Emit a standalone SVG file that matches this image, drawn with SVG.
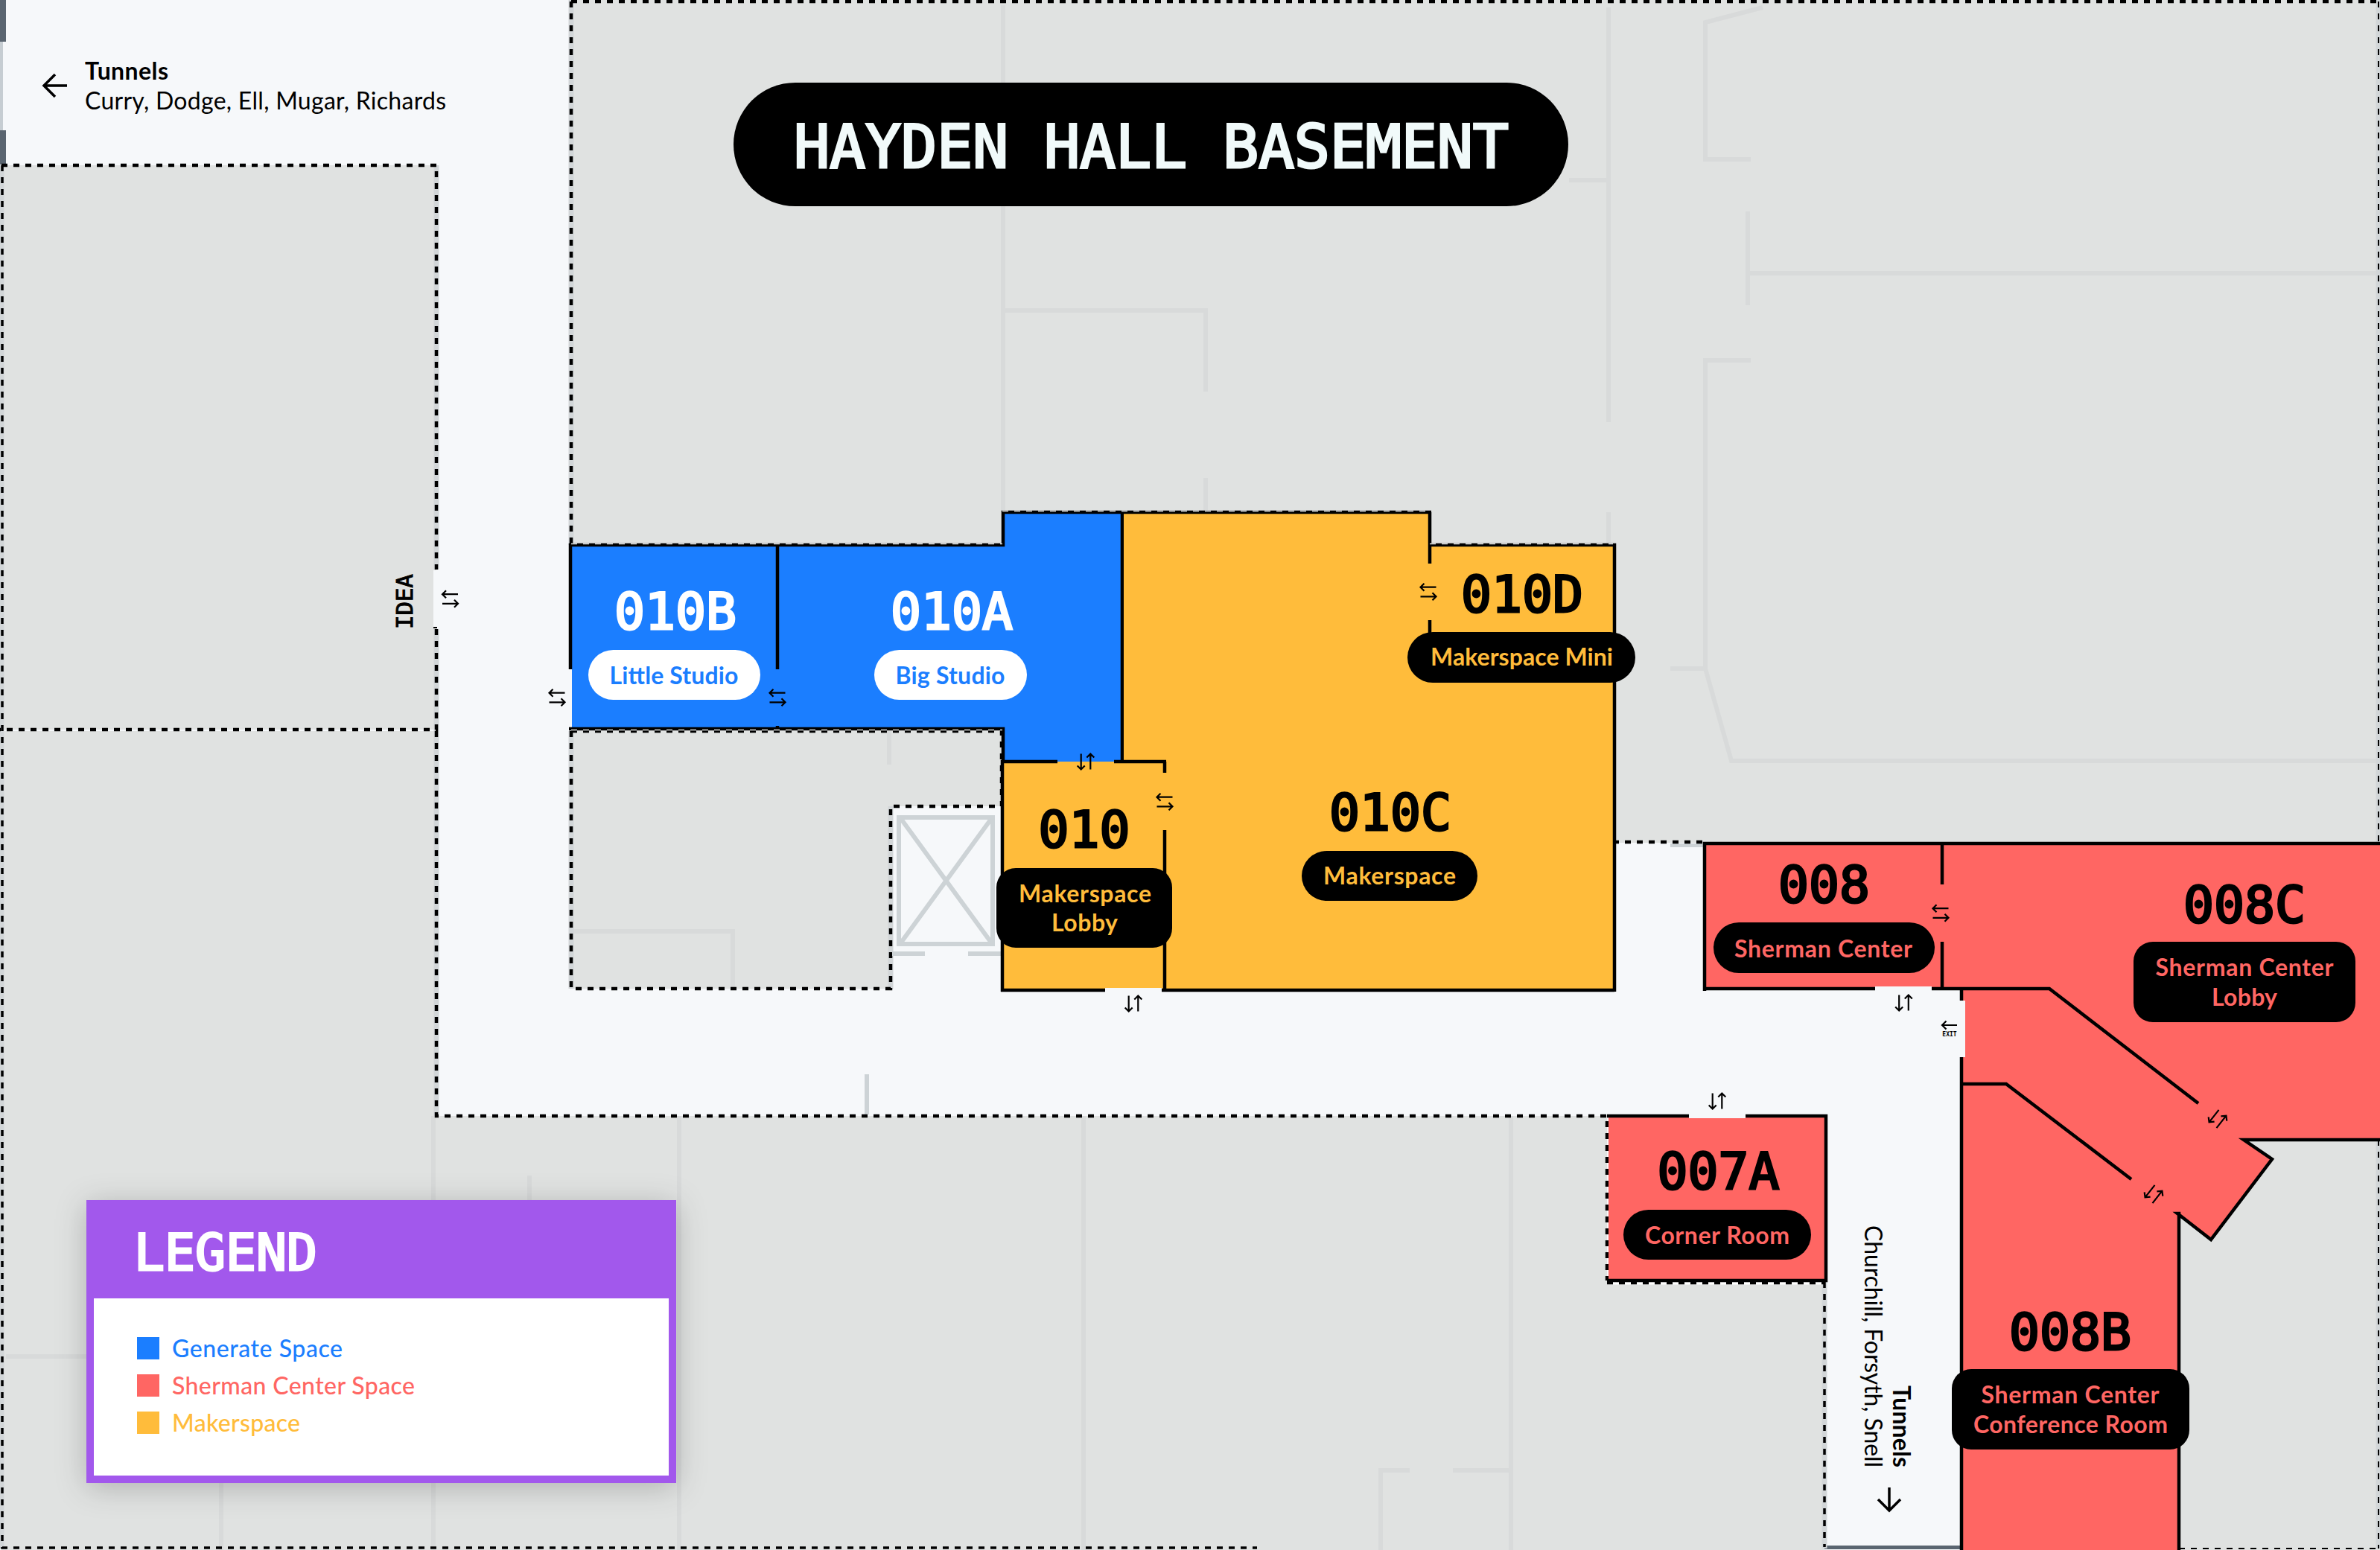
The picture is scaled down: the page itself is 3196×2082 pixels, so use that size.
<svg xmlns="http://www.w3.org/2000/svg" width="3196" height="2082" viewBox="0 0 3196 2082">
<style>
.gray{fill:#e0e2e1}
.edge{fill:none;stroke:#d2d6d8;stroke-width:7}
.dash{fill:none;stroke:#000;stroke-width:4.5;stroke-dasharray:8 8}
.lite{fill:none;stroke:#e0e2e1;stroke-width:1.6;stroke-dasharray:8 8}
.faint{fill:none;stroke:#d8dada;stroke-width:6}
.wall{fill:none;stroke:#000;stroke-width:4.5}
.elev{fill:none;stroke:#cdd3d6;stroke-width:6}
.gap{fill:#f6f8fa}
.code{font-family:"DejaVu Sans Mono",monospace;font-weight:400;font-size:68px;text-anchor:middle;fill:#000;stroke:#000;stroke-width:3}
.code.w{fill:#fff;stroke:#fff}
.lab{font-family:Lato,"Noto Sans",sans-serif;font-weight:700;font-size:32px;text-anchor:middle}
.leg{font-family:Lato,"Noto Sans",sans-serif;font-weight:500;font-size:32px}
.tun{font-family:Lato,"Noto Sans",sans-serif;font-size:32px;fill:#000}
.ic{fill:none;stroke:#000;stroke-width:2.2}
</style>
<defs>
<path id="sw" d="M10.5-6.3H-10.5M-5.5-11.3L-10.5-6.3L-5.5-1.3M-10.5 6.3H10.5M5.5 1.3L10.5 6.3L5.5 11.3"/>
<filter id="sh" x="-15%" y="-15%" width="130%" height="135%"><feDropShadow dx="0" dy="6" stdDeviation="20" flood-color="#000" flood-opacity=".22"/></filter>
</defs>
<rect width="3196" height="2082" fill="#f6f8fa"/>
<g id="blocks">
<rect class="gray" x="2" y="222" width="584" height="758"/>
<path class="gray" d="M2 982H586V1499H2158V1722H2450V2082H2V982Z"/>
<path class="gray" d="M767 982H1345V1083H1196V1328H767Z"/>
<path class="gray" d="M767 0H3196V1132H2166V732H1920V688H1346V732H767Z"/>
<path class="gray" d="M2926 1531H3196V2082H2926Z"/>
<path class="gray" d="M3016 1531H3196V1640H2990Z"/>
<path class="faint" d="M1347 7V688M1347 417H1619V526M1619 642V688M2107 242H2160M2160 10V567M2160 688V732M2367 10L2290 30V214H2351M2347 284V410M2347 367H3194M2351 484H2290V898H2243M2290 898L2325 1022H3194M1194 982V1027M768 1251H984V1327M582 1499V2082M912 1499V2082M711 1579V1612M297 1992V2082M8 1822H116M1455 1499V2082M2029 1499V2082M1854 2082V1975H1893M1951 1975H2029"/>
<rect x="1161" y="1443" width="6" height="54" fill="#cdd3d6"/>
<rect x="2243" y="1133" width="44" height="5" fill="#cdd3d6"/>
<rect x="0" y="0" width="8" height="56" fill="#5a6570"/>
<rect x="0" y="56" width="4" height="119" fill="#c6cdd2"/>
<rect x="0" y="175" width="8" height="46" fill="#5a6570"/>
<rect x="2450" y="2076" width="185" height="5" fill="#5a6570"/>
<path class="edge" d="M2 222V2080M586 222V765M586 845V1499M767 0V732M767 982V1328M1196 1083V1328M2450 1722V2080M3194 0V1132M3194 1531V2080"/>
<path d="M2158 1723H2452" fill="none" stroke="#fff" stroke-width="5"/>
<path class="dash" d="M2 222H586V765M586 845V980H0M586 982V1499H2158V1720M767 2H3194M767 2V732M767 982V1328H1196V1083H1345V982H767M2166 1131H2287M2158 1723H2450"/>
<path d="M3 222V2079H1688" fill="none" stroke="#000" stroke-width="3.5" stroke-dasharray="8 8"/>
<path d="M3194 2V1132M3194 1531V2080M2926 2080H3194" fill="none" stroke="#000" stroke-width="2" stroke-dasharray="8 8"/>
<path d="M2450 1722V2078" fill="none" stroke="#000" stroke-width="3.5" stroke-dasharray="8 8"/>
<path d="M582 843H587" stroke="#000" stroke-width="2"/>
</g>
<g id="elevator">
<rect class="elev" x="1207" y="1098" width="126" height="170"/>
<path class="elev" d="M1210 1100L1331 1266M1331 1100L1210 1266" stroke-width="5"/>
<path class="elev" d="M1198 1281H1242M1300 1281H1344"/>
</g>
<g id="room-010B-010A">
<path fill="#1b7eff" d="M768 734H1346V690H1508V1023H1346V978H768Z"/>
<path class="wall" d="M766 899V732H1347V688H1507M1044 732V899M764 979H1347V1023M1507 688V1023M1044 975V979"/>
</g>
<g id="room-010-010C-010D">
<path fill="#ffbc3b" d="M1509 690H1920V732H2166V1330H1346V1023H1509Z"/>
<path class="wall" d="M1507 688H1922M1920 688V757M1920 833V870M1918 732H2168V1332M1346 1023H1420M1496 1023H1566M1564 1023V1038M1564 1115V1330M1346 1021V1332M1344 1330H1484M1560 1330H2168"/>
<path class="lite" d="M767 730.5H1346M1346 686.5H1920M1920 730.5H2166M767 980.5H1346"/>
</g>
<g id="room-008-group">
<rect fill="#ff6663" x="2289" y="1133" width="320" height="195"/>
<path fill="#ff6663" d="M2608 1133H3196V1531H3014L3051 1557L2969 1665L2924 1630V2082H2635V1328H2608Z"/>
<path class="wall" d="M2289 1331V1133H3196M2287 1328H2518M2594 1328H2752L2952 1482M2608 1133V1188M2608 1265V1328M2634 1328V1344M2634 1420V2082M2634 1456H2694L2862 1584M3196 1531H3013L3051 1557L2969 1665L2924 1630L2926 1630V2082" stroke-linejoin="miter"/>
</g>
<g id="room-007A">
<rect fill="#ff6663" x="2160" y="1501" width="290" height="217"/>
<path class="wall" d="M2158 1499H2268M2344 1499H2452V1720H2158"/>
</g>
<g id="connectors">
<rect class="gap" x="2518" y="1325" width="76" height="6"/>
<rect class="gap" x="2630" y="1344" width="9" height="76"/>
<rect class="gap" x="2268" y="1496" width="76" height="6"/>
<rect class="gap" x="1484" y="1327" width="76" height="6"/>
<rect class="gap" x="582" y="766" width="8" height="76"/>
<use href="#sw" class="ic" transform="translate(604.5 804.5)"/>
<use href="#sw" class="ic" transform="translate(748 937)"/>
<use href="#sw" class="ic" transform="translate(1044 937)"/>
<use href="#sw" class="ic" transform="translate(1458 1023) rotate(90)"/>
<use href="#sw" class="ic" transform="translate(1564 1077)"/>
<use href="#sw" class="ic" transform="translate(1522 1348) rotate(90)"/>
<use href="#sw" class="ic" transform="translate(1918 795)"/>
<use href="#sw" class="ic" transform="translate(2606 1226.5)"/>
<use href="#sw" class="ic" transform="translate(2556.5 1347) rotate(90)"/>
<use href="#sw" class="ic" transform="translate(2306 1479) rotate(90)"/>
<use href="#sw" class="ic" transform="translate(2978 1503) rotate(128)"/>
<use href="#sw" class="ic" transform="translate(2892 1604) rotate(128)"/>
<path class="ic" d="M2628 1377H2608M2613.5 1371.5L2608 1377L2613.5 1382.5"/>
<text x="2618" y="1392" font-family="'DejaVu Sans Mono',monospace" font-size="8" font-weight="700" text-anchor="middle" fill="#000">EXIT</text>
</g>
<g id="title">
<rect x="985" y="111" width="1121" height="166" rx="83" fill="#000"/>
<text x="1546" y="225" font-family="'DejaVu Sans Mono',monospace" font-weight="400" font-size="80" text-anchor="middle" fill="#f1fafa" stroke="#f1fafa" stroke-width="3" textLength="960" lengthAdjust="spacing">HAYDEN HALL BASEMENT</text>
</g>
<g id="tunnels-west">
<path d="M90 115H59M74 100L59 115L74 130" fill="none" stroke="#000" stroke-width="3.5"/>
<text class="tun" x="114" y="107" font-weight="700" textLength="112">Tunnels</text>
<text class="tun" x="114" y="147" textLength="485">Curry, Dodge, Ell, Mugar, Richards</text>
</g>
<g id="idea"><text transform="translate(554 845) rotate(-90)" font-family="'DejaVu Sans Mono',monospace" font-weight="400" font-size="31" fill="#000" stroke="#000" stroke-width="1" textLength="74">IDEA</text></g>
<g id="tunnels-south">
<text class="tun" transform="translate(2542 1971) rotate(90)" font-weight="700" text-anchor="end" textLength="110">Tunnels</text>
<text class="tun" transform="translate(2504 1971) rotate(90)" text-anchor="end" textLength="325">Churchill, Forsyth, Snell</text>
<path d="M2537 1998V2029M2522 2014L2537 2029L2552 2014" fill="none" stroke="#000" stroke-width="3.5"/>
</g>
<g id="label-010B">
<text class="code w" x="907" y="845">010B</text>
<rect x="790" y="873" width="231" height="67" rx="33.5" fill="#fff"/>
<text class="lab" x="905" y="919" fill="#1b7eff" textLength="173">Little Studio</text>
</g>
<g id="label-010A">
<text class="code w" x="1278" y="845">010A</text>
<rect x="1174" y="873" width="205" height="67" rx="33.5" fill="#fff"/>
<text class="lab" x="1276" y="919" fill="#1b7eff" textLength="147">Big Studio</text>
</g>
<g id="label-010">
<text class="code" x="1456" y="1138">010</text>
<rect x="1338" y="1166" width="236" height="107" rx="26" fill="#000"/>
<text class="lab" x="1457" y="1212" fill="#ffbc3b" textLength="178">Makerspace</text>
<text class="lab" x="1456.5" y="1251" fill="#ffbc3b" textLength="89">Lobby</text>
</g>
<g id="label-010C">
<text class="code" x="1867" y="1115">010C</text>
<rect x="1748" y="1143" width="236" height="67" rx="33.5" fill="#000"/>
<text class="lab" x="1866" y="1188" fill="#ffbc3b" textLength="178">Makerspace</text>
</g>
<g id="label-010D">
<text class="code" x="2044" y="822">010D</text>
<rect x="1890" y="849" width="306" height="68" rx="34" fill="#000"/>
<text class="lab" x="2043.5" y="894" fill="#ffbc3b" textLength="245">Makerspace Mini</text>
</g>
<g id="label-008">
<text class="code" x="2449.5" y="1212">008</text>
<rect x="2301" y="1239" width="297" height="68" rx="34" fill="#000"/>
<text class="lab" x="2448.5" y="1286" fill="#ff6663" textLength="239">Sherman Center</text>
</g>
<g id="label-008C">
<text class="code" x="3014" y="1239">008C</text>
<rect x="2865" y="1265" width="298" height="108" rx="26" fill="#000"/>
<text class="lab" x="3014" y="1311" fill="#ff6663" textLength="239">Sherman Center</text>
<text class="lab" x="3014" y="1351" fill="#ff6663" textLength="88">Lobby</text>
</g>
<g id="label-007A">
<text class="code" x="2307.5" y="1597">007A</text>
<rect x="2180" y="1625" width="252" height="67" rx="33.5" fill="#000"/>
<text class="lab" x="2306" y="1671" fill="#ff6663" textLength="194">Corner Room</text>
</g>
<g id="label-008B">
<text class="code" x="2780" y="1813">008B</text>
<rect x="2621" y="1839" width="319" height="108" rx="26" fill="#000"/>
<text class="lab" x="2780" y="1885" fill="#ff6663" textLength="239">Sherman Center</text>
<text class="lab" x="2780.5" y="1925" fill="#ff6663" textLength="261">Conference Room</text>
</g>
<g id="legend">
<rect x="116" y="1612" width="792" height="380" fill="#a259ec" filter="url(#sh)"/>
<rect x="126" y="1744" width="772" height="238" fill="#fff"/>
<text x="180" y="1706" font-family="'DejaVu Sans Mono',monospace" font-weight="400" font-size="68" fill="#fff" stroke="#fff" stroke-width="3" textLength="246">LEGEND</text>
<rect x="184" y="1796" width="30" height="30" fill="#1b7eff"/>
<rect x="184" y="1846" width="30" height="30" fill="#ff6663"/>
<rect x="184" y="1896" width="30" height="30" fill="#ffbc3b"/>
<text class="leg" x="231" y="1823" fill="#1b7eff" textLength="229">Generate Space</text>
<text class="leg" x="231" y="1873" fill="#ff6663" textLength="326">Sherman Center Space</text>
<text class="leg" x="231" y="1923" fill="#ffbc3b" textLength="172">Makerspace</text>
</g>
</svg>
